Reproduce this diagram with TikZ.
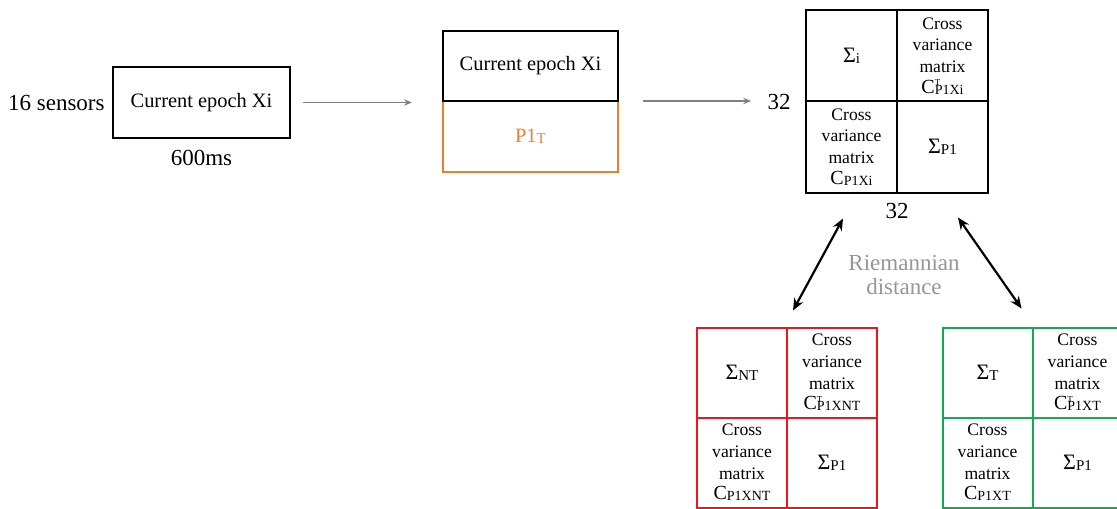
\documentclass[tikz,border=0pt]{standalone}
\usepackage{fontspec}
\setmainfont{Liberation Serif}
\usetikzlibrary{positioning,arrows.meta}
\definecolor{epochorange}{RGB}{237,125,49}
\definecolor{ntred}{RGB}{240,20,30}
\definecolor{tgreen}{RGB}{20,170,80}
\definecolor{flowgray}{RGB}{128,128,128}
\definecolor{distgray}{RGB}{150,150,150}
% small index, as in P1T or the Sigma cells
\newcommand\sbs[1]{\raisebox{-0.3pt}{\fontsize{7.5}{8}\selectfont #1}}
% C with index (and optional T on top)
\newcommand\cvmat[2]{C\rlap{\raisebox{3.6pt}{\fontsize{4.5}{5}\selectfont #2}}\raisebox{-0.6pt}{\fontsize{7}{7}\selectfont #1}}
\newcommand\crossvar[1]{Cross\\variance\\matrix\\[-0.5pt]{\fontsize{10}{10}\selectfont #1}}
\newcommand\sig[1]{{\fontsize{11}{13}\selectfont Σ\sbs{#1}}}
\begin{document}
\begin{tikzpicture}[x=0.5pt,y=-0.5pt,line join=miter,>=Stealth,
	lbl/.style={font=\fontsize{11.5}{13}\selectfont,inner sep=0pt},
	epoch/.style={draw,line width=1pt,minimum width=88.5pt,minimum height=35.5pt,inner sep=0pt,outer sep=0pt,font=\fontsize{10.2}{12}\selectfont},
	cell/.style={draw,line width=1pt,minimum width=45.5pt,minimum height=45.5pt,inner sep=0pt,outer sep=0pt,align=center,font=\fontsize{8.8}{10.8}\selectfont},
	small cell/.style={cell,minimum width=45pt,minimum height=45pt},
	flow/.style={-{Stealth[length=4pt,width=3.2pt]},flowgray,line width=0.75pt},
	dist/.style={{Stealth[length=6pt,width=5pt]}-{Stealth[length=6pt,width=5pt]},line width=1.1pt}]
	\useasboundingbox (0,0) rectangle (1117,508);
	\clip (0,0) rectangle (1117,508);
	% input epoch
	\node[epoch] (ep1) at (201.5,102.5) {Current epoch Xi};
	\node[lbl,left=4pt of ep1] (sens) {16 sensors};
	\node[lbl,below=6pt of ep1] (dur) {600ms};
	% augmented epoch
	\node[epoch,draw=epochorange,text=epochorange,minimum width=87.5pt] (p1) at (530.5,136.5) {P1\sbs{T}};
	\node[epoch,minimum width=87.5pt,minimum height=35pt,above=0pt of p1] (ep2) {Current epoch Xi};
	\draw[flow,shorten <=6.5pt,shorten >=15.5pt] (ep1.east) -- (ep1.east -| ep2.west);
	% covariance of the epoch
	\node[cell] (i11) at (851.5,56) {\sig{i}};
	\node[cell,right=0pt of i11] (i12) {\crossvar{\cvmat{P1Xi}{T}}};
	\node[cell,below=0pt of i11] (i21) {\crossvar{\cvmat{P1Xi}{}}};
	\node[cell,right=0pt of i21] (i22) {\sig{P1}};
	\node[lbl,left=7.5pt of i11.south west] (rows) {32};
	\node[lbl,below=5pt of i21.south east] (cols) {32};
	\draw[flow,shorten <=12.5pt,shorten >=8pt] (ep2.south east) -- (ep2.south east -| rows.west);
	% non target prototype
	\node[small cell,draw=ntred] (nt11) at (742,372.5) {\sig{NT}};
	\node[small cell,draw=ntred,right=0pt of nt11] (nt12) {\crossvar{\cvmat{P1XNT}{T}}};
	\node[small cell,draw=ntred,below=0pt of nt11] (nt21) {\crossvar{\cvmat{P1XNT}{}}};
	\node[small cell,draw=ntred,right=0pt of nt21] (nt22) {\sig{P1}};
	% target prototype
	\node[small cell,draw=tgreen] (t11) at (987.5,372.5) {\sig{T}};
	\node[small cell,draw=tgreen,right=0pt of t11] (t12) {\crossvar{\cvmat{P1XT}{T}}};
	\node[small cell,draw=tgreen,below=0pt of t11] (t21) {\crossvar{\cvmat{P1XT}{}}};
	\node[small cell,draw=tgreen,right=0pt of t21] (t22) {\sig{P1}};
	% distances
	\draw[dist] ([xshift=-27pt,yshift=-13pt]i21.south east) -- ([xshift=3pt,yshift=8.5pt]nt11.north east);
	\draw[dist] ([xshift=7.75pt,yshift=-12.5pt]i22.south) -- ([xshift=-5.5pt,yshift=9.5pt]t11.north east);
	\node[lbl,text=distgray,align=center,font=\fontsize{11.5}{12}\selectfont] (riem) at (904,275) {Riemannian\\distance};
\end{tikzpicture}
\end{document}
